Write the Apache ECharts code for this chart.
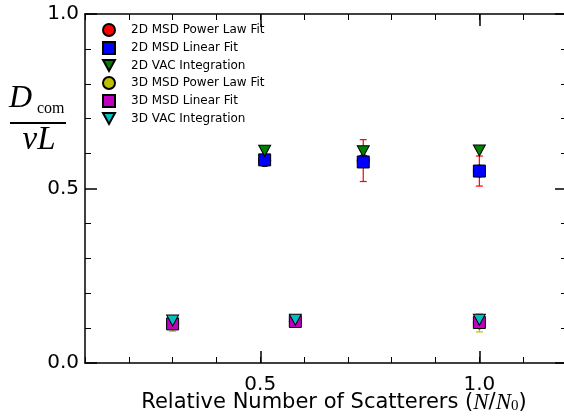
<!DOCTYPE html>
<html><head><meta charset="utf-8">
<script src="https://cdn.jsdelivr.net/npm/echarts@6/dist/echarts.min.js"></script>
<style>html,body{margin:0;padding:0;background:#fff}#c{width:564px;height:417px}</style>
</head><body><div id="c"></div>
<script>
// ---- data ----
const seriesNames = ['2D MSD Power Law Fit','2D MSD Linear Fit','2D VAC Integration','3D MSD Power Law Fit','3D MSD Linear Fit','3D VAC Integration'];
const x2D = [0.51, 0.735, 1.0];
const msdPow2D = [0.580, 0.580, 0.550];
const msdPow2DErr = [0.015, 0.060, 0.043];
const msdLin2D = [0.582, 0.576, 0.550];
const vac2D = [0.608, 0.607, 0.609];
const x3D = [0.30, 0.58, 1.0];
const msdPow3D = [0.113, 0.119, 0.115];
const msdPow3DErr = [0.022, 0.008, 0.026];
const msdLin3D = [0.112, 0.119, 0.116];
const vac3D = [0.122, 0.124, 0.124];
const xTickLabels = [0.5, 1.0];
const xRange = [0.1, 1.2];
const yRange = [0.0, 1.0];

const FONT = 'DejaVu Sans';
const SERIF = 'Liberation Serif';
const pairs = (xs, ys) => xs.map((x, i) => [x, ys[i]]);
const triples = (xs, ys, es) => xs.map((x, i) => [x, ys[i], es[i]]);
const TRI = 'path://M0,0L12,0L6,11Z';

function errBar(color) {
  return function (params, api) {
    const x = api.value(0), y = api.value(1), e = api.value(2);
    const t = api.coord([x, y + e]), b = api.coord([x, y - e]);
    const hw = 3.5;
    const st = { stroke: color, lineWidth: 1.2 };
    return { type: 'group', children: [
      { type: 'line', shape: { x1: t[0], y1: t[1], x2: b[0], y2: b[1] }, style: st },
      { type: 'line', shape: { x1: t[0] - hw, y1: t[1], x2: t[0] + hw, y2: t[1] }, style: st },
      { type: 'line', shape: { x1: b[0] - hw, y1: b[1], x2: b[0] + hw, y2: b[1] }, style: st }
    ]};
  };
}

function scatter(name, xs, ys, symbol, size, color) {
  return { name, type: 'scatter', data: pairs(xs, ys), symbol, symbolSize: size,
    itemStyle: { color, borderColor: '#000', borderWidth: 1, opacity: 1 },
    emphasis: { disabled: true }, xAxisIndex: 0, yAxisIndex: 0 };
}

const lineStyle = { color: '#000', width: 1.5 };
const minorX = (pos) => ({
  type: 'value', position: pos, min: xRange[0], max: xRange[1], interval: 0.1,
  axisLine: { show: true, onZero: false, lineStyle },
  axisTick: { show: true, inside: true, length: 6, lineStyle: { color: '#000', width: 1 } },
  axisLabel: { show: false }, splitLine: { show: false }
});
const majorX = (pos, labels) => ({
  type: 'value', position: pos, min: xRange[0], max: xRange[1],
  axisLine: { show: false, onZero: false },
  axisTick: { show: true, inside: true, length: 12, customValues: xTickLabels, lineStyle: { color: '#000', width: 1.5 } },
  axisLabel: { show: labels, customValues: xTickLabels, margin: 12, color: '#000', fontFamily: FONT, fontSize: 20,
    formatter: v => Number(v).toFixed(1) },
  splitLine: { show: false }
});
const yAx = (pos, labels) => ({
  type: 'value', position: pos, min: yRange[0], max: yRange[1], interval: 0.5,
  axisLine: { show: true, onZero: false, lineStyle },
  axisTick: { show: true, inside: true, length: 12, lineStyle: { color: '#000', width: 1.5 } },
  minorTick: { show: true, splitNumber: 5, length: 6, lineStyle: { color: '#000', width: 1 } },
  axisLabel: { show: labels, margin: 6, color: '#000', fontFamily: FONT, fontSize: 20,
    formatter: v => Number(v).toFixed(1) },
  splitLine: { show: false }, minorSplitLine: { show: false }
});

const chart = echarts.init(document.getElementById('c'), null, { renderer: 'canvas' });
chart.setOption({
  animation: false,
  backgroundColor: '#fff',
  grid: { left: 85, top: 14, width: 482, height: 349, containLabel: false, outerBoundsMode: 'none' },
  xAxis: [minorX('bottom'), minorX('top'), majorX('bottom', true), majorX('top', false)],
  yAxis: [yAx('left', true), yAx('right', false)],
  legend: {
    data: seriesNames, orient: 'vertical', left: 102, top: 23, padding: 0,
    itemWidth: 12, itemHeight: 12, itemGap: 4,
    textStyle: { fontFamily: FONT, fontSize: 12, color: '#000', lineHeight: 12, padding: [0, 0, 0, 11] },
    selectedMode: false
  },
  graphic: [
    { type: 'text', x: 9, y: 115, style: { text: 'D', fontFamily: SERIF, fontStyle: 'italic', fontSize: 32, fill: '#000', textVerticalAlign: 'bottom' } },
    { type: 'text', x: 37, y: 117, style: { text: 'com', fontFamily: SERIF, fontSize: 16, fill: '#000', textVerticalAlign: 'bottom' } },
    { type: 'line', shape: { x1: 10, y1: 123, x2: 66, y2: 123 }, style: { stroke: '#000', lineWidth: 2 } },
    { type: 'text', x: 39, y: 124, style: { text: 'vL', fontFamily: SERIF, fontStyle: 'italic', fontSize: 33, fill: '#000', textAlign: 'center', textVerticalAlign: 'top' } },
    { type: 'text', x: 334, y: 403, style: {
        text: '{a|Relative Number of Scatterers (}{m|N}{a|/}{m|N}{s|0}{a|)}',
        textAlign: 'center', textVerticalAlign: 'middle',
        rich: {
          a: { fontFamily: FONT, fontSize: 21, fill: '#000' },
          m: { fontFamily: SERIF, fontStyle: 'italic', fontSize: 23, fill: '#000' },
          s: { fontFamily: SERIF, fontSize: 15, fill: '#000', padding: [7, 0, 0, 0] }
        } } }
  ],
  series: [
    scatter(seriesNames[0], x2D, msdPow2D, 'circle', 12, '#ff0000'),
    { name: 'err2D', type: 'custom', renderItem: errBar('#ff0000'), data: triples(x2D, msdPow2D, msdPow2DErr), xAxisIndex: 0, yAxisIndex: 0, silent: true },
    scatter(seriesNames[1], x2D, msdLin2D, 'rect', 12, '#0000ff'),
    scatter(seriesNames[2], x2D, vac2D, TRI, [12, 11], '#008000'),
    scatter(seriesNames[3], x3D, msdPow3D, 'circle', 12, '#bfbf00'),
    { name: 'err3D', type: 'custom', renderItem: errBar('#bfbf00'), data: triples(x3D, msdPow3D, msdPow3DErr), xAxisIndex: 0, yAxisIndex: 0, silent: true },
    scatter(seriesNames[4], x3D, msdLin3D, 'rect', 12, '#bf00bf'),
    scatter(seriesNames[5], x3D, vac3D, TRI, [12, 11], '#00bfbf')
  ]
});
</script></body></html>
